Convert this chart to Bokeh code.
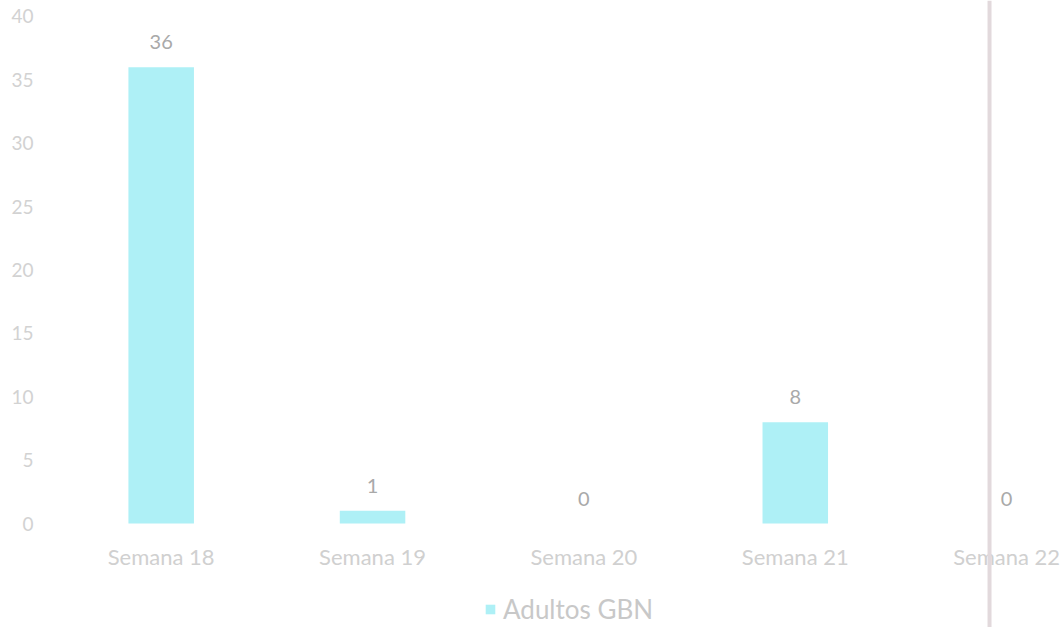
from bokeh.plotting import figure
from bokeh.models import ColumnDataSource, Legend, LegendItem, Span, FixedTicker
from bokeh.core.properties import value
from bokeh.embed import file_html
from bokeh.resources import INLINE

# ---- data ----
categories = ["Semana 18", "Semana 19", "Semana 20", "Semana 21", "Semana 22"]
adultos_gbn = [36, 1, 0, 8, 0]
y_ticks = [0, 5, 10, 15, 20, 25, 30, 35, 40]
series_name = "Adultos GBN"

FONT = "Lato"
BAR_COLOR = "#aef0f6"

xs = list(range(len(categories)))
source = ColumnDataSource(dict(
    x=xs,
    top=adultos_gbn,
    label=[str(v) for v in adultos_gbn],
    cat=categories,
    base=[0] * len(categories),
))

p = figure(
    frame_width=1008, frame_height=627,
    x_range=(-0.5, 4.269), y_range=(-8.2, 41.26),
    output_backend="svg", toolbar_location=None,
    min_border_top=0, min_border_left=55, min_border_right=0, min_border_bottom=0,
)
p.outline_line_color = None
p.background_fill_color = "white"
p.border_fill_color = "white"
p.xgrid.grid_line_color = None
p.ygrid.grid_line_color = None

# scan-line artifact at the right
p.add_layout(Span(location=3.919, dimension="height", line_color="#e2d9dc", line_width=4))

bars = p.vbar(x="x", top="top", bottom=0, width=0.31, source=source,
              fill_color=BAR_COLOR, line_color=None)

# value labels
p.text(x="x", y="top", text="label", source=source,
       text_align="center", text_baseline="middle", y_offset=-25,
       text_font=value(FONT), text_font_size="20px", text_color="#a9a9a9")

# category labels (x axis)
p.text(x="x", y="base", text="cat", source=source,
       text_align="center", text_baseline="middle", y_offset=33,
       text_font=value(FONT), text_font_size="22px", text_color="#d0d0d0")

p.xaxis.visible = False

p.yaxis.ticker = FixedTicker(ticks=y_ticks)
p.yaxis.axis_line_color = None
p.yaxis.major_tick_line_color = None
p.yaxis.minor_tick_line_color = None
p.yaxis.major_tick_out = 0
p.yaxis.major_tick_in = 0
p.yaxis.minor_tick_out = 0
p.yaxis.minor_tick_in = 0
p.yaxis.major_label_standoff = 22
p.yaxis.major_label_text_font = FONT
p.yaxis.major_label_text_font_size = "19px"
p.yaxis.major_label_text_color = "#d2d2d2"

legend = Legend(items=[LegendItem(label=series_name, renderers=[bars])],
                location=(429, 2), orientation="horizontal",
                margin=0, padding=0, spacing=0,
                glyph_width=12, glyph_height=12, label_standoff=7,
                label_text_font=FONT, label_text_font_size="26px",
                label_text_color="#c8c8c8",
                border_line_color=None, background_fill_color=None)
p.add_layout(legend)

open("out.html", "w").write(file_html(p, INLINE))
